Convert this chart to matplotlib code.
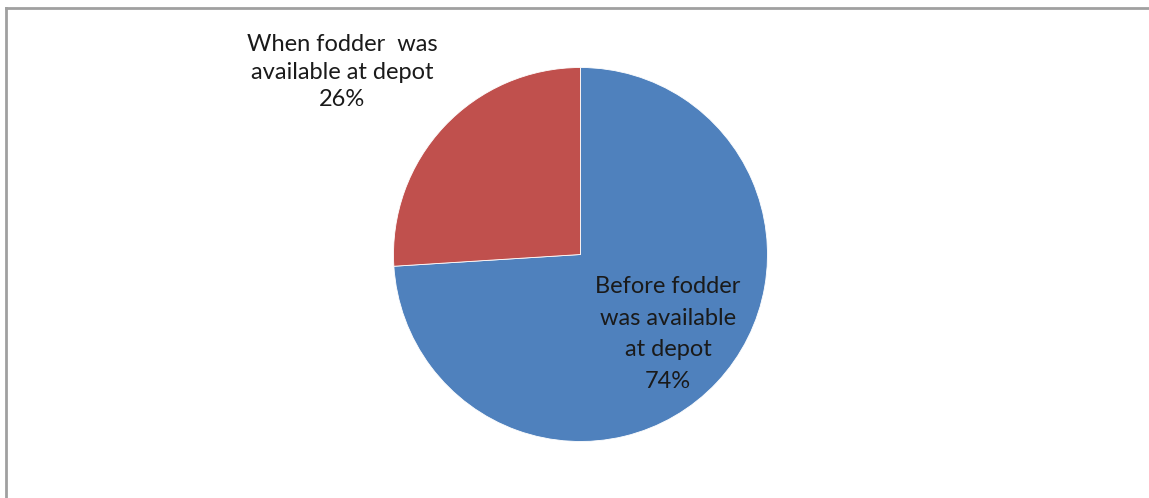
import matplotlib.pyplot as plt
from matplotlib.lines import Line2D

labels = ['Before fodder\nwas available\nat depot', 'When fodder  was\navailable at depot']
shares = [74, 26]
colors = ['#4F81BD', '#C0504D']

plt.rcParams['font.family'] = ['Lato', 'DejaVu Sans']

W, H = 1149, 498
fig = plt.figure(figsize=(W / 100, H / 100), dpi=100)

# pie centred at (580, 254) px, radius 187 px
cx, cy, r = 580.5, 254.5, 187
ax = fig.add_axes([(cx - r) / W, (H - cy - r) / H, 2 * r / W, 2 * r / H])
ax.pie(shares, colors=colors, startangle=90, counterclock=False, radius=1,
       wedgeprops=dict(edgecolor='white', linewidth=0.6))
ax.set_xlim(-1, 1)
ax.set_ylim(-1, 1)
ax.set_aspect('equal')
ax.axis('off')

# slice labels with percentages
pos = [(668, 334, 1.62), (342, 72, 1.38)]
for lab, val, (px, py, ls) in zip(labels, shares, pos):
    ax.text((px - cx) / r, (cy - py) / r, f'{lab}\n{val}%', ha='center', va='center',
            fontsize=17, color='#1a1a1a', linespacing=ls, clip_on=False)

# chart area frame (left and top edges)
fig.add_artist(Line2D([5.5 / W, 5.5 / W], [0, 1 - 8 / H], transform=fig.transFigure,
                      color='#a0a0a0', lw=2))
fig.add_artist(Line2D([5.5 / W, 1], [1 - 8 / H, 1 - 8 / H], transform=fig.transFigure,
                      color='#a0a0a0', lw=2))

fig.savefig('out.png', dpi=100)
